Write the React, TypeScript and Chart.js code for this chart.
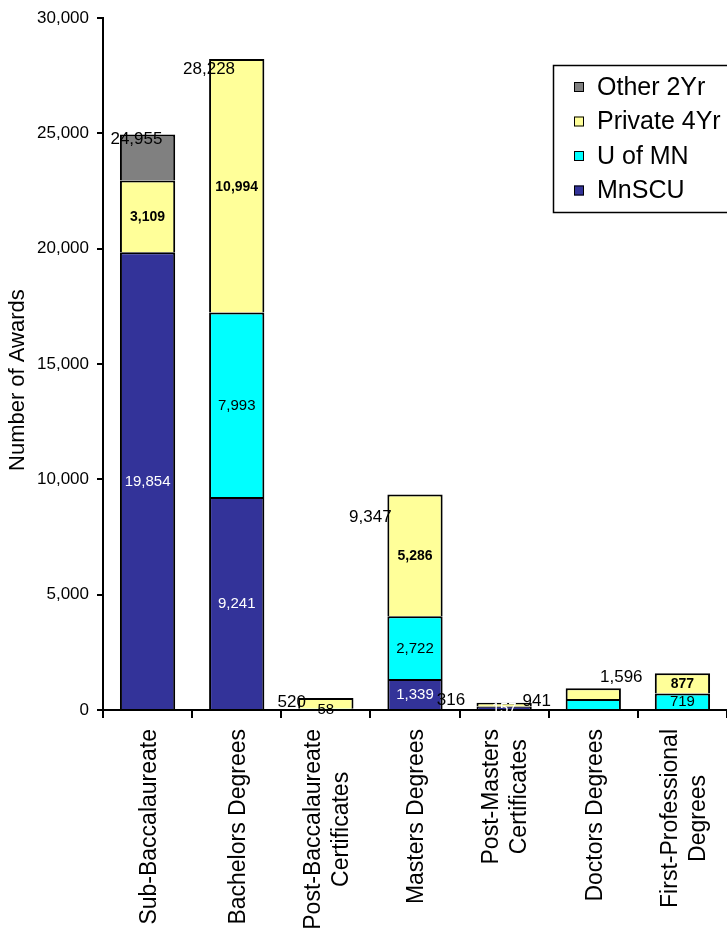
import { useEffect, useRef } from "react";
import { Chart, registerables } from "chart.js";

Chart.register(...registerables);

// Award categories (multi-line labels for the x axis)
const categories: string[][] = [
  ["Sub-Baccalaureate"],
  ["Bachelors Degrees"],
  ["Post-Baccalaureate", "Certificates"],
  ["Masters Degrees"],
  ["Post-Masters", "Certificates"],
  ["Doctors Degrees"],
  ["First-Professional", "Degrees"],
];

// Number of awards by sector
const mnscu = [19854, 9241, 0, 1339, 157, 0, 0];
const uOfMn = [0, 7993, 58, 2722, 0, 480, 719];
const private4Yr = [3109, 10994, 462, 5286, 159, 461, 877];
const other2Yr = [1992, 0, 0, 0, 0, 0, 0];
const totals = [24955, 28228, 520, 9347, 316, 941, 1596];

// Y axis ticks
const yTicks = [0, 5000, 10000, 15000, 20000, 25000, 30000];

// Segment labels that are left off the bars (by series, category index)
const hiddenSegmentLabels: Record<string, number[]> = {
  MnSCU: [],
  "U of MN": [5],
  "Private 4Yr": [2, 4, 5],
  "Other 2Yr": [0, 1, 2, 3, 4, 5, 6],
};

// Nudge of each total label centre from its bar's top-left corner (px)
const totalLabelNudge: [number, number][] = [
  [16.5, 5],
  [0, 10.5],
  [-6.5, 4],
  [-17, 23],
  [-25.5, -2],
  [-29, 13],
  [-33.5, 4],
];

const FONT = "'Liberation Sans', Arial, Helvetica, sans-serif";

const fmt = (v: number) => v.toLocaleString("en-US");

const segmentStyle: Record<string, { color: string; weight: string; size: number }> = {
  MnSCU: { color: "#ffffff", weight: "normal", size: 15 },
  "U of MN": { color: "#000000", weight: "normal", size: 15 },
  "Private 4Yr": { color: "#000000", weight: "bold", size: 14 },
  "Other 2Yr": { color: "#000000", weight: "normal", size: 15 },
};

const annotations = {
  id: "annotations",
  afterDatasetsDraw(chart: any) {
    const ctx: CanvasRenderingContext2D = chart.ctx;
    const yScale = chart.scales.y;
    ctx.save();
    ctx.textAlign = "center";
    ctx.textBaseline = "middle";

    // values inside the stacked segments
    chart.data.datasets.forEach((ds: any, d: number) => {
      const meta = chart.getDatasetMeta(d);
      const style = segmentStyle[ds.label];
      const hidden = hiddenSegmentLabels[ds.label] || [];
      meta.data.forEach((el: any, i: number) => {
        const v = ds.data[i];
        if (!v || hidden.includes(i)) return;
        ctx.font = `${style.weight} ${style.size}px ${FONT}`;
        ctx.fillStyle = style.color;
        ctx.fillText(fmt(v), el.x, (el.y + el.base) / 2 + 1);
      });
    });

    // totals near the top-left corner of each bar
    const base = chart.getDatasetMeta(0);
    ctx.font = `normal 17px ${FONT}`;
    ctx.fillStyle = "#000";
    totals.forEach((t, i) => {
      const el: any = base.data[i];
      const left = el.x - el.width / 2;
      const top = yScale.getPixelForValue(t);
      const [dx, dy] = totalLabelNudge[i];
      ctx.fillText(fmt(t), left + dx, top + dy);
    });
    ctx.restore();
  },
  afterDraw(chart: any) {
    const ctx: CanvasRenderingContext2D = chart.ctx;
    const xScale = chart.scales.x;
    const area = chart.chartArea;
    ctx.save();

    // rotated category labels, lines centred on each other
    const size = 23;
    const lineH = 28;
    ctx.font = `normal ${size}px ${FONT}`;
    ctx.fillStyle = "#000";
    ctx.textAlign = "center";
    ctx.textBaseline = "middle";
    categories.forEach((lines, i) => {
      const cx = xScale.getPixelForValue(i) + 2;
      const maxW = Math.max(...lines.map((l) => ctx.measureText(l).width));
      const cy = area.bottom + 19 + maxW / 2;
      lines.forEach((line, j) => {
        const lx = cx + (j - (lines.length - 1) / 2) * lineH;
        ctx.save();
        ctx.translate(lx, cy);
        ctx.rotate(-Math.PI / 2);
        ctx.fillText(line, 0, 0);
        ctx.restore();
      });
    });

    // y axis title
    ctx.font = `normal 22px ${FONT}`;
    ctx.save();
    ctx.translate(18, (area.top + area.bottom) / 2 + 16);
    ctx.rotate(-Math.PI / 2);
    ctx.fillText("Number of Awards", 0, 0);
    ctx.restore();

    // legend box, top series first
    const lx = 553;
    const ly = 65;
    ctx.lineWidth = 1.5;
    ctx.strokeStyle = "#000";
    ctx.fillStyle = "#fff";
    ctx.fillRect(lx, ly, 200, 147);
    ctx.strokeRect(lx + 0.5, ly + 0.5, 200, 147);
    const items = [...chart.data.datasets].reverse();
    ctx.textAlign = "left";
    ctx.font = `normal 25px ${FONT}`;
    items.forEach((ds: any, k: number) => {
      const y = 87 + k * 34.5;
      ctx.fillStyle = ds.backgroundColor;
      ctx.fillRect(574, y - 5, 10, 10);
      ctx.lineWidth = 1;
      ctx.strokeStyle = "#000";
      ctx.strokeRect(574.5, y - 4.5, 9, 9);
      ctx.fillStyle = "#000";
      ctx.fillText(ds.label, 597, y + 1);
    });
    ctx.restore();
  },
};

export default function App() {
  const ref = useRef<HTMLCanvasElement>(null);

  useEffect(() => {
    document.body.style.margin = "0";
    Chart.defaults.font.family = FONT;
    const canvas = ref.current!;
    const series = [
      { label: "MnSCU", data: mnscu, backgroundColor: "#333399" },
      { label: "U of MN", data: uOfMn, backgroundColor: "#00FFFF" },
      { label: "Private 4Yr", data: private4Yr, backgroundColor: "#FFFF99" },
      { label: "Other 2Yr", data: other2Yr, backgroundColor: "#808080" },
    ];
    const chart = new Chart(canvas, {
      type: "bar",
      data: {
        labels: categories.map((c) => c.join(" ")),
        datasets: series.map((s) => ({
          ...s,
          borderColor: "#000000",
          borderWidth: 2,
          barPercentage: 0.62,
          categoryPercentage: 1,
        })),
      },
      options: {
        responsive: false,
        animation: false,
        devicePixelRatio: 1,
        layout: { padding: { top: 8, left: 0, right: 0, bottom: 0 } },
        plugins: {
          legend: { display: false },
          tooltip: { enabled: false },
          title: { display: false },
        },
        scales: {
          x: {
            stacked: true,
            ticks: { display: false },
            grid: {
              offset: true,
              drawOnChartArea: false,
              drawTicks: true,
              tickLength: 8,
              color: "#000",
              lineWidth: 2,
            },
            border: { display: true, color: "#000", width: 2 },
            afterFit: (s: any) => {
              s.height = 232;
            },
          },
          y: {
            stacked: true,
            min: 0,
            max: 30000,
            afterBuildTicks: (s: any) => {
              s.ticks = yTicks.map((v) => ({ value: v }));
            },
            ticks: {
              color: "#000",
              font: { size: 17, family: FONT },
              padding: 8,
              callback: (v: any) => fmt(Number(v)),
            },
            grid: {
              drawOnChartArea: false,
              drawTicks: true,
              tickLength: 6,
              color: "#000",
              lineWidth: 2,
            },
            border: { display: true, color: "#000", width: 2 },
            afterFit: (s: any) => {
              s.width = 103;
            },
          },
        },
      },
      plugins: [annotations],
    });
    return () => chart.destroy();
  }, []);

  return <canvas ref={ref} width={727} height={942} style={{ display: "block" }} />;
}
